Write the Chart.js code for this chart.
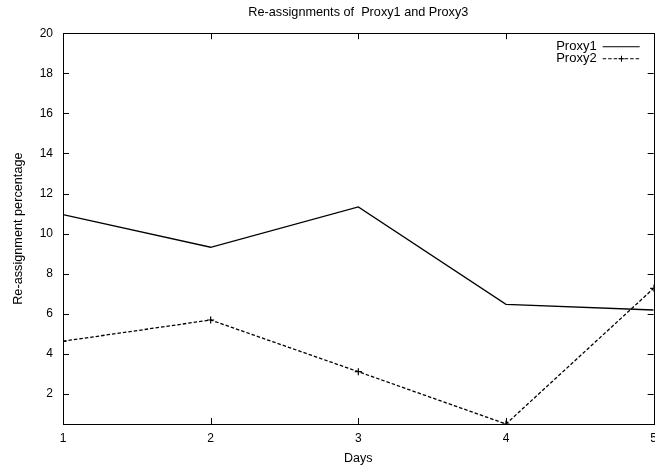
<!DOCTYPE html>
<html>
<head>
<meta charset="utf-8">
<script src="https://cdn.jsdelivr.net/npm/chart.js@4/dist/chart.umd.min.js"></script>
<style>
  html, body { margin: 0; padding: 0; background: #fff; overflow: hidden; }
  #wrap { width: 664px; height: 466px; }
</style>
</head>
<body>
<div id="wrap"><canvas id="chart"></canvas></div>
<script>
var days = [1, 2, 3, 4, 5];
var proxy1 = [10.95, 9.32, 11.33, 6.47, 6.19];
var proxy2 = [4.63, 5.69, 3.11, 0.5, 7.27];
var yTicks = [2, 4, 6, 8, 10, 12, 14, 16, 18, 20];
var xTicks = [1, 2, 3, 4, 5];

var font = "'Liberation Sans', Arial, Helvetica, sans-serif";

// gnuplot style: box border, inward ticks on all four sides, legend inside top right
var gnuplotFrame = {
  id: "gnuplotFrame",
  afterDatasetsDraw: function(chart) {
    var ctx = chart.ctx;
    var a = chart.chartArea;
    var xs = chart.scales.x, ys = chart.scales.y;
    ctx.save();
    ctx.strokeStyle = "#000";
    ctx.lineWidth = 1;
    ctx.setLineDash([]);
    ctx.strokeRect(Math.round(a.left) + 0.5, Math.round(a.top) + 0.5,
      Math.round(a.right - a.left), Math.round(a.bottom - a.top));
    ctx.beginPath();
    yTicks.forEach(function(v) {
      var py = Math.round(ys.getPixelForValue(v)) + 0.5;
      ctx.moveTo(a.left, py); ctx.lineTo(a.left + 6, py);
      ctx.moveTo(a.right, py); ctx.lineTo(a.right - 6, py);
    });
    xTicks.forEach(function(v) {
      var px = Math.round(xs.getPixelForValue(v)) + 0.5;
      ctx.moveTo(px, a.bottom); ctx.lineTo(px, a.bottom - 6);
      ctx.moveTo(px, a.top); ctx.lineTo(px, a.top + 6);
    });
    ctx.stroke();

    // legend
    ctx.font = "13px " + font;
    ctx.fillStyle = "#000";
    ctx.textAlign = "right";
    ctx.textBaseline = "middle";
    chart.data.datasets.forEach(function(ds, i) {
      var y = a.top + 13 + i * 12;
      var x1 = a.right - 51, x2 = a.right - 14;
      ctx.fillText(ds.label, x1 - 6, y);
      ctx.beginPath();
      ctx.setLineDash(ds.borderDash || []);
      ctx.moveTo(x1, y + 0.5); ctx.lineTo(x2, y + 0.5);
      ctx.stroke();
      ctx.setLineDash([]);
      if (ds.pointRadius > 0) {
        var mx = Math.round((x1 + x2) / 2) + 0.5;
        ctx.beginPath();
        ctx.moveTo(mx - 3, y + 0.5); ctx.lineTo(mx + 3, y + 0.5);
        ctx.moveTo(mx, y - 2.5); ctx.lineTo(mx, y + 3.5);
        ctx.stroke();
      }
    });
    ctx.restore();
  }
};

new Chart(document.getElementById("chart"), {
  type: "line",
  data: {
    datasets: [{
      label: "Proxy1",
      data: days.map(function(d, i) { return { x: d, y: proxy1[i] }; }),
      borderColor: "#000",
      borderWidth: 1.3,
      pointRadius: 0,
      fill: false,
      tension: 0
    }, {
      label: "Proxy2",
      data: days.map(function(d, i) { return { x: d, y: proxy2[i] }; }),
      borderColor: "#000",
      borderWidth: 1.3,
      borderDash: [3.5, 2],
      pointStyle: "cross",
      pointRadius: 3.5,
      pointBorderWidth: 1.2,
      pointBorderColor: "#000",
      fill: false,
      tension: 0
    }]
  },
  options: {
    responsive: true,
    maintainAspectRatio: false,
    animation: false,
    layout: { padding: { left: 0, right: 0, top: 0, bottom: 0 } },
    plugins: {
      legend: { display: false },
      tooltip: { enabled: false },
      title: {
        display: true,
        text: "Re-assignments of  Proxy1 and Proxy3",
        fullSize: false,
        color: "#000",
        font: { family: font, size: 12.7, weight: "normal" },
        padding: { top: 5, bottom: 13 }
      }
    },
    scales: {
      x: {
        type: "linear",
        min: 1,
        max: 5,
        afterBuildTicks: function(axis) {
          axis.ticks = xTicks.map(function(v) { return { value: v }; });
        },
        ticks: { color: "#000", font: { family: font, size: 12 }, padding: 7, maxRotation: 0 },
        grid: { display: false, drawTicks: false },
        border: { display: false },
        title: {
          display: true,
          text: "Days",
          color: "#000",
          font: { family: font, size: 12.5 },
          padding: { top: 0, bottom: 0 }
        },
        afterFit: function(axis) { axis.height = 42; }
      },
      y: {
        min: 0.5,
        max: 20,
        afterBuildTicks: function(axis) {
          axis.ticks = yTicks.map(function(v) { return { value: v }; });
        },
        ticks: { color: "#000", font: { family: font, size: 12 }, padding: 10 },
        grid: { display: false, drawTicks: false },
        border: { display: false },
        title: {
          display: true,
          text: "Re-assignment percentage",
          color: "#000",
          font: { family: font, size: 12.7 },
          padding: { top: 11, bottom: 0 }
        },
        afterFit: function(axis) { axis.width = 63; }
      }
    }
  },
  plugins: [gnuplotFrame]
});
</script>
</body>
</html>
